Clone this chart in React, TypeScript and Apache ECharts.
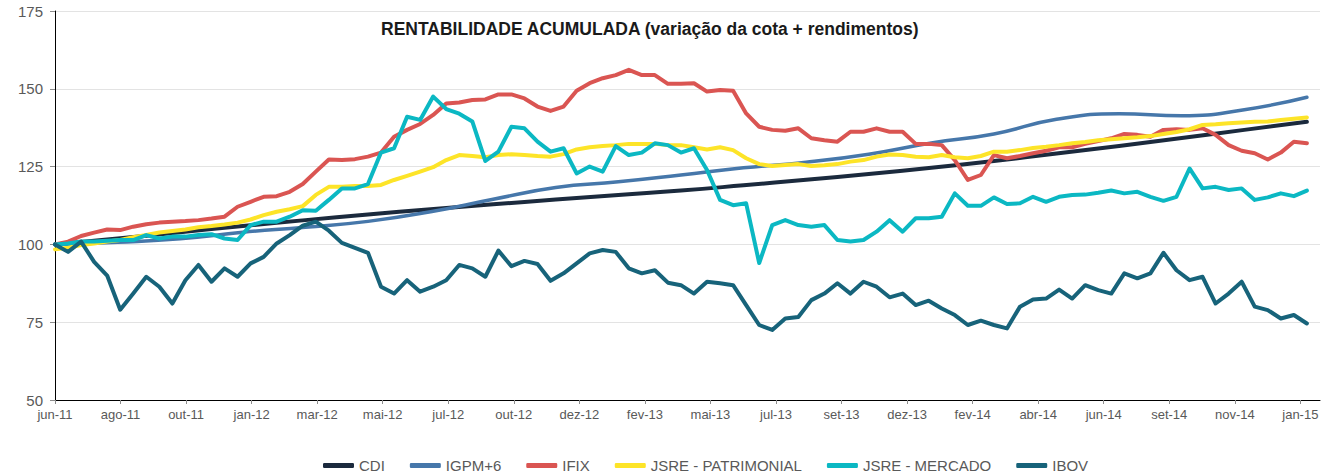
import React, { useEffect, useRef } from 'react';
import * as echarts from 'echarts';

const TITLE = 'RENTABILIDADE ACUMULADA (variação da cota + rendimentos)';

const TICK_LABELS = [
  'jun-11', 'ago-11', 'out-11', 'jan-12', 'mar-12', 'mai-12', 'jul-12', 'out-12', 'dez-12', 'fev-13',
  'mai-13', 'jul-13', 'set-13', 'dez-13', 'fev-14', 'abr-14', 'jun-14', 'set-14', 'nov-14', 'jan-15',
];

// last observation position, in label-tick units (data run slightly past jan-15)
const LAST_OBS = 19.1;
const AXIS_END = 19.3;

const CDI = [100, 101.9, 103.9, 105.9, 107.8, 109.6, 111.3, 112.9, 114.4, 115.9, 117.3, 119.0, 120.8, 122.6, 124.6, 126.8, 129.2, 131.6, 134.2, 136.8, 139.4];

const IGPM6 = [100, 100.7, 101.8, 103.9, 105.5, 107.4, 110.5, 114.5, 118.3, 120.1, 122.3, 124.6, 126.4, 129.0, 132.6, 135.5, 140.2, 142.0, 141.3, 143.3, 147.3];

const IFIX = [
  100.0, 100.9, 102.7, 103.8, 104.8, 104.6, 105.7, 106.5, 107.0, 107.3, 107.5, 107.8, 108.3, 108.9, 112.1, 113.7, 115.3,
  115.5, 116.9, 119.4, 123.4, 127.3, 127.1, 127.4, 128.2, 129.5, 134.6, 136.8, 138.7, 141.6, 145.3, 145.6, 146.4,
  146.6, 148.2, 148.2, 146.9, 144.3, 142.9, 144.3, 149.4, 151.8, 153.4, 154.4, 156.1, 154.4, 154.4, 151.6, 151.6,
  151.8, 149.1, 149.6, 149.4, 142.1, 137.8, 136.8, 136.5, 137.3, 134.1, 133.5, 133.0, 136.2, 136.2, 137.3, 136.2,
  136.2, 132.3, 132.3, 131.9, 127.1, 120.7, 122.3, 128.7, 127.7, 128.4, 129.3, 130.1, 131.2, 131.2, 132.3, 133.2,
  134.1, 135.5, 135.2, 134.6, 136.8, 137.0, 136.8, 137.3, 135.2, 131.9, 130.1, 129.3, 127.3, 129.5, 133.0, 132.5,
];

const JSRE_PATRIMONIAL = [
  98.4, 98.9, 99.8, 100.3, 100.9, 101.4, 102.3, 103.0, 103.8, 104.3, 104.8, 105.5, 105.9, 106.4, 107.0, 108.0, 109.4,
  110.5, 111.3, 112.3, 115.9, 118.5, 118.5, 118.8, 118.8, 119.1, 120.7, 122.0, 123.4, 124.8, 127.1, 128.7, 128.4,
  128.0, 128.7, 129.0, 128.7, 128.4, 128.2, 129.0, 130.5, 131.2, 131.6, 131.9, 132.3, 132.3, 132.3, 131.9, 131.9,
  131.2, 130.5, 131.2, 130.3, 127.7, 125.8, 125.2, 125.5, 125.8, 125.2, 125.4, 125.8, 126.6, 127.1, 128.2, 128.9,
  128.7, 128.2, 128.0, 128.7, 128.0, 127.7, 128.4, 129.8, 129.8, 130.3, 131.0, 131.4, 131.9, 132.5, 132.9, 133.5,
  133.8, 134.1, 134.4, 134.8, 135.5, 136.1, 137.0, 138.4, 138.6, 138.9, 139.2, 139.4, 139.5, 140.0, 140.4, 140.8,
];

const JSRE_MERCADO = [
  100.0, 100.3, 100.9, 100.9, 101.2, 101.4, 101.4, 103.0, 101.9, 102.5, 102.5, 103.0, 103.3, 101.9, 101.4, 106.2, 107.3,
  107.3, 108.9, 111.0, 110.8, 114.3, 118.0, 118.0, 119.4, 129.5, 130.9, 141.0, 140.0, 147.5, 143.5, 142.0, 139.5,
  126.8, 129.8, 137.8, 137.3, 133.0, 129.8, 130.9, 122.8, 125.0, 123.4, 131.6, 128.7, 129.5, 132.5, 131.9, 129.5,
  130.9, 123.9, 114.3, 112.6, 113.2, 94.0, 106.2, 107.8, 106.2, 105.7, 106.2, 101.4, 100.9, 101.4, 104.1, 107.8,
  104.1, 108.4, 108.4, 108.9, 116.4, 112.4, 112.4, 115.1, 113.0, 113.2, 115.3, 113.7, 115.3, 115.9, 116.0, 116.6,
  117.3, 116.4, 116.9, 115.3, 114.0, 115.3, 124.4, 118.0, 118.5, 117.5, 118.0, 114.3, 115.1, 116.4, 115.5, 117.3,
];

const IBOV = [
  100.0, 97.6, 100.9, 94.4, 90.0, 79.0, 84.2, 89.6, 86.4, 81.0, 88.5, 93.4, 88.0, 92.3, 89.6, 93.9, 96.0,
  100.3, 103.0, 106.0, 107.3, 104.4, 100.5, 98.9, 97.3, 86.4, 84.2, 88.5, 84.8, 86.4, 88.5, 93.4, 92.3,
  89.6, 98.0, 93.0, 94.7, 93.7, 88.3, 90.7, 93.9, 97.1, 98.2, 97.6, 92.3, 90.7, 91.7, 87.7, 86.9,
  84.2, 88.0, 87.5, 86.9, 80.5, 74.1, 72.5, 76.2, 76.7, 82.1, 84.2, 87.5, 84.2, 88.0, 86.4, 83.0,
  84.2, 80.5, 81.9, 79.4, 77.3, 74.1, 75.5, 74.1, 73.0, 80.0, 82.3, 82.6, 85.5, 82.6, 86.9, 85.3,
  84.2, 90.7, 89.1, 90.7, 97.3, 91.7, 88.5, 89.6, 81.0, 84.2, 88.0, 80.0, 78.9, 76.2, 77.3, 74.6,
];

const SERIES = [
  { name: 'CDI', data: CDI, color: '#1b2a3d', width: 4, smooth: true },
  { name: 'IGPM+6', data: IGPM6, color: '#4677aa', width: 3.5, smooth: true },
  { name: 'IFIX', data: IFIX, color: '#da5552', width: 4, smooth: false },
  { name: 'JSRE - PATRIMONIAL', data: JSRE_PATRIMONIAL, color: '#fde428', width: 4, smooth: false },
  { name: 'JSRE - MERCADO', data: JSRE_MERCADO, color: '#0bb8c3', width: 4, smooth: false },
  { name: 'IBOV', data: IBOV, color: '#17637a', width: 4, smooth: false },
];

const toPairs = (values: number[]) =>
  values.map((v, i) => [(i * LAST_OBS) / (values.length - 1), v]);

const FONT = 'Liberation Sans, Arial, sans-serif';

export default function App() {
  const ref = useRef<HTMLDivElement>(null);

  useEffect(() => {
    if (!ref.current) return;
    const chart = echarts.init(ref.current, undefined, { renderer: 'svg' });
    const tickValues = TICK_LABELS.map((_, i) => i);
    chart.setOption({
      animation: false,
      backgroundColor: '#ffffff',
      textStyle: { fontFamily: FONT },
      title: {
        text: TITLE,
        left: 381,
        top: 20,
        padding: 0,
        textStyle: { fontFamily: FONT, fontSize: 17.5, fontWeight: 'bold', color: '#1a1a1a' },
      },
      legend: {
        left: 323,
        top: 458,
        padding: 0,
        itemWidth: 31,
        itemHeight: 5,
        itemGap: 25,
        icon: 'roundRect',
        textStyle: { fontFamily: FONT, fontSize: 15, color: '#595959' },
        data: SERIES.map((s) => s.name),
      },
      grid: { left: 55, right: 3, top: 11, bottom: 75 },
      xAxis: {
        type: 'value',
        min: 0,
        max: AXIS_END,
        interval: 1,
        axisLine: { show: true, lineStyle: { color: '#000000', width: 1 } },
        axisTick: { show: true, length: 4, lineStyle: { color: '#8c8c8c' }, customValues: tickValues },
        axisLabel: {
          customValues: tickValues,
          margin: 8,
          fontFamily: FONT,
          fontSize: 13,
          color: '#595959',
          formatter: (v: number) => (Number.isInteger(v) ? TICK_LABELS[v] ?? '' : ''),
        },
        splitLine: { show: false },
      },
      yAxis: {
        type: 'value',
        min: 50,
        max: 175,
        interval: 25,
        axisLine: { show: true, lineStyle: { color: '#000000', width: 1 } },
        axisTick: { show: true, length: 5, lineStyle: { color: '#8c8c8c' } },
        axisLabel: { margin: 12, fontFamily: FONT, fontSize: 15, color: '#595959' },
        splitLine: { show: true, lineStyle: { color: '#e3e3e3', width: 1 } },
      },
      series: SERIES.map((s) => ({
        name: s.name,
        type: 'line',
        data: toPairs(s.data),
        showSymbol: false,
        symbol: 'none',
        smooth: s.smooth,
        color: s.color,
        lineStyle: { color: s.color, width: s.width, cap: 'round', join: 'round' },
        itemStyle: { color: s.color },
        emphasis: { disabled: true },
      })),
    });
    return () => chart.dispose();
  }, []);

  return (
    <div
      ref={ref}
      style={{ position: 'fixed', left: 0, top: 0, width: 1323, height: 475, background: '#fff' }}
    />
  );
}
